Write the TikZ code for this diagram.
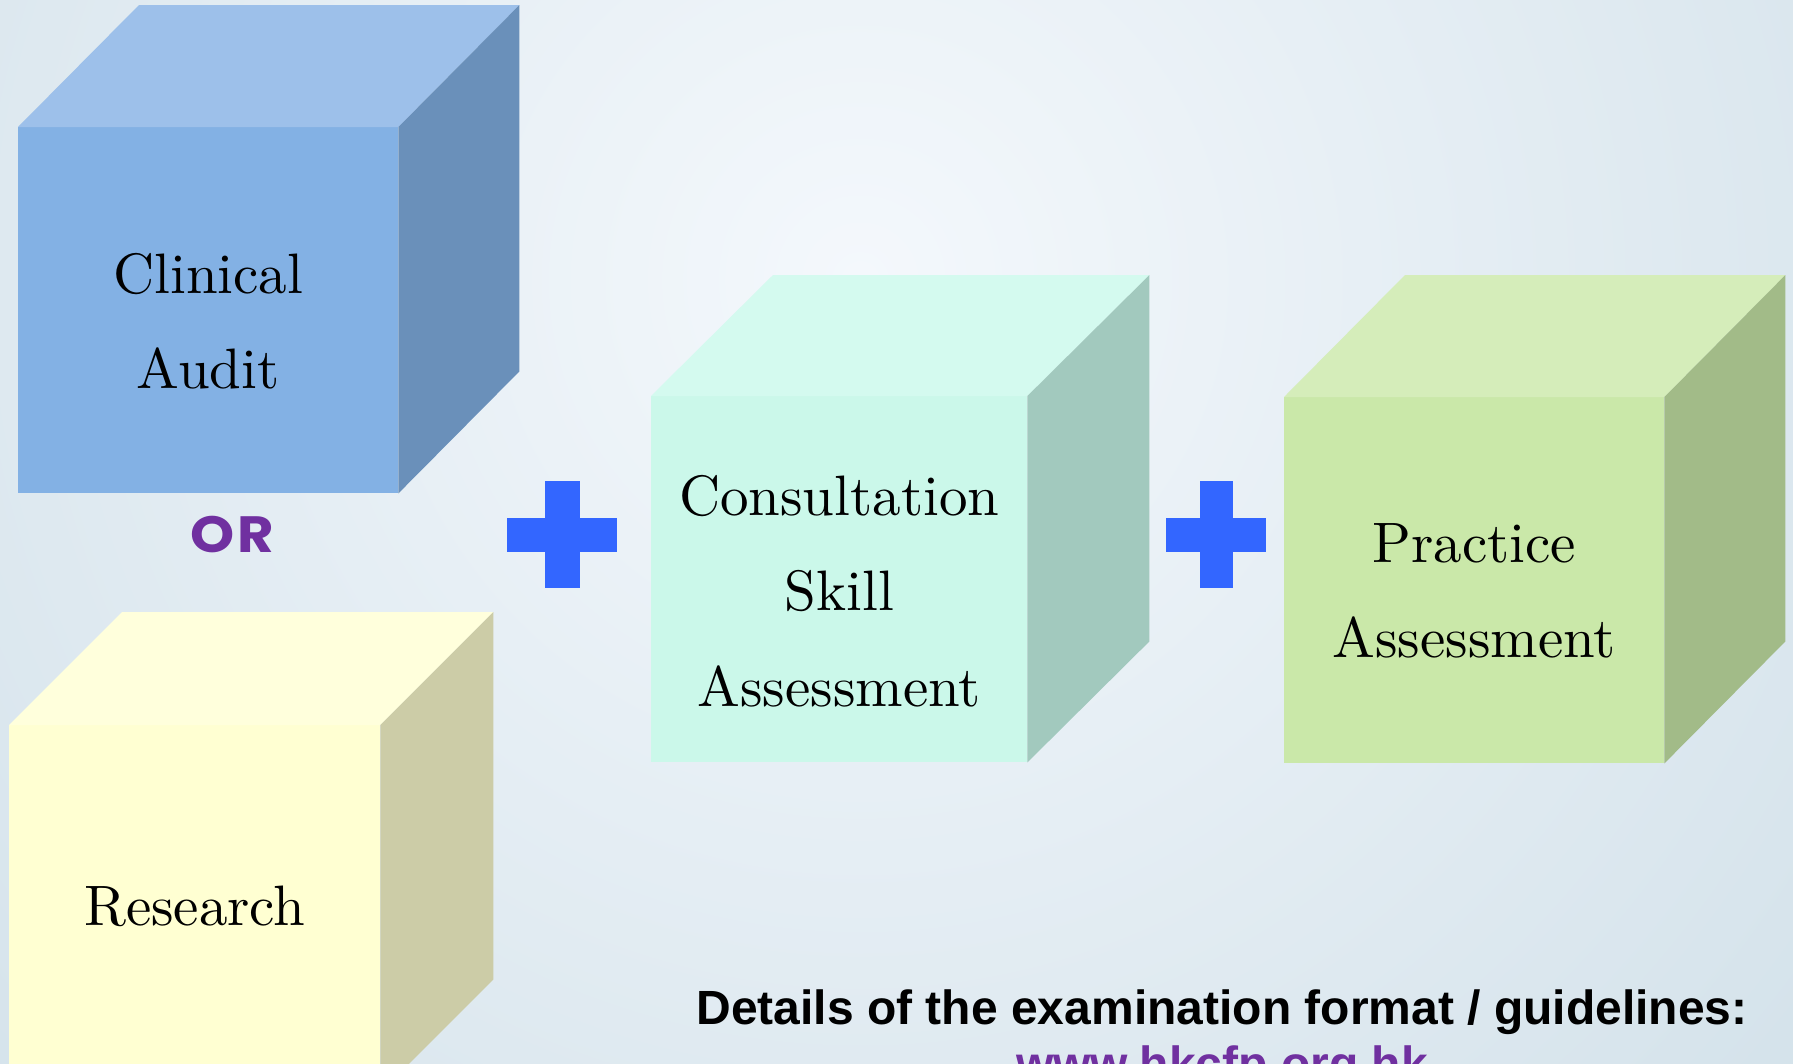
\documentclass[tikz,border=0pt]{standalone}
\usepackage{fontspec}
\newfontfamily\notefont{Liberation Sans}
\newfontfamily\orfont{Poppins}[FakeStretch=1.1, LetterSpace=5]
\newfontfamily\cubefont{lmroman10-regular}[Extension=.otf]

\definecolor{bgin}{HTML}{F4F8FC}
\definecolor{bgout}{HTML}{C8DAE4}
\definecolor{plusblue}{HTML}{3366FF}
\definecolor{notepurple}{HTML}{7030A0}
\definecolor{auditfront}{HTML}{83B1E4}
\definecolor{audittop}{HTML}{9DC0EA}
\definecolor{auditside}{HTML}{6A90BA}
\definecolor{researchfront}{HTML}{FFFFD2}
\definecolor{researchtop}{HTML}{FFFFDC}
\definecolor{researchside}{HTML}{CCCCA7}
\definecolor{consultfront}{HTML}{CBF8EA}
\definecolor{consulttop}{HTML}{D4FAEF}
\definecolor{consultside}{HTML}{A2C9BE}
\definecolor{practicefront}{HTML}{CAE8A9}
\definecolor{practicetop}{HTML}{D5EDBA}
\definecolor{practiceside}{HTML}{A2BB88}

% top and right faces of a cube whose front is node #1
\newcommand{\cubesides}[4]{%
  \fill[#2] (#1.north west) -- ++#4 -- ([shift={#4}]#1.north east) -- (#1.north east) -- cycle;
  \fill[#3] (#1.north east) -- ++#4 -- ([shift={#4}]#1.south east) -- (#1.south east) -- cycle;
}

\begin{document}
\begin{tikzpicture}[x=1pt,y=-1pt,
    cubefront/.style={rectangle, inner sep=0pt, anchor=north west, minimum height=366pt},
    cubetext/.style={align=center, inner sep=0pt, font=\cubefont\fontsize{57}{95.5}\selectfont},
    plusmark/.style={fill=plusblue},
    notetext/.style={anchor=base, inner sep=0pt, font=\notefont\bfseries\fontsize{48}{56}\selectfont}]
  \useasboundingbox (0,0) rectangle (1793,1063);
  \clip (0,0) rectangle (1793,1063);
  \shade[inner color=bgin, outer color=bgout] (-840,-1420) rectangle (2560,1980);

  % cubes
  \node[cubefront, fill=auditfront, minimum width=380pt] (audit) at (18,127) {};
  \cubesides{audit}{audittop}{auditside}{(121,-122)}
  \node[cubetext] (auditText) at ([yshift=-11pt]audit.center) {Clinical\\Audit};

  \node[cubefront, fill=researchfront, minimum width=371pt, minimum height=367pt] (research) at (9,725) {};
  \cubesides{research}{researchtop}{researchside}{(113,-113)}
  \node[cubetext] (researchText) at ([yshift=2pt]research.center) {Research};

  \node[cubefront, fill=consultfront, minimum width=376pt] (consult) at (651,396) {};
  \cubesides{consult}{consulttop}{consultside}{(122,-121)}
  \node[cubetext] (consultText) at ([yshift=-12pt]consult.center) {Consultation\\Skill\\Assessment};

  \node[cubefront, fill=practicefront, minimum width=380pt] (practice) at (1284,397) {};
  \cubesides{practice}{practicetop}{practiceside}{(121,-122)}
  \node[cubetext] (practiceText) at ([yshift=-10.5pt]practice.center) {Practice\\Assessment};

  % OR and plus signs
  \node[inner sep=0pt, text=notepurple, font=\orfont\bfseries\fontsize{51}{60}\selectfont] (or) at (232,535) {OR};
  \fill[plusmark] (507,518) rectangle (617,552);
  \fill[plusmark] (545,481) rectangle (580,588);
  \fill[plusmark] (1166,518) rectangle (1266,552);
  \fill[plusmark] (1200,481) rectangle (1233,588);

  % footnote
  \node[notetext] (details) at (1222,1024) {Details of the examination format / guidelines:};
  \node[notetext, text=notepurple] (site) at (1222,1080) {www.hkcfp.org.hk};
\end{tikzpicture}
\end{document}
